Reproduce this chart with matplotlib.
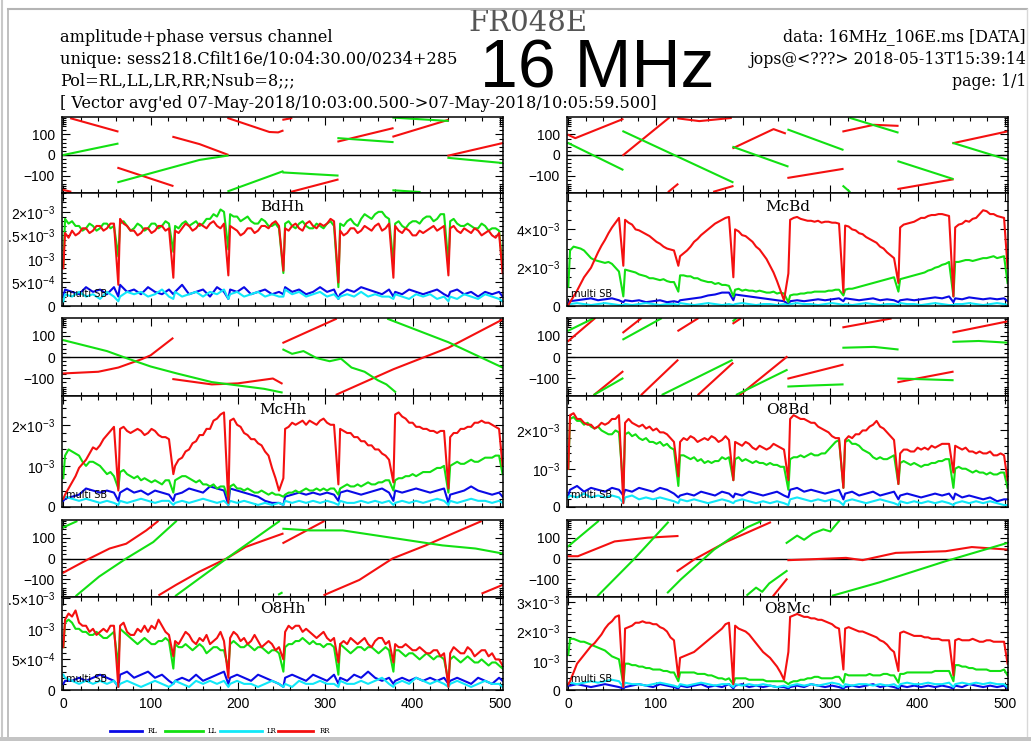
import numpy as np
import matplotlib
matplotlib.use("Agg")
import matplotlib.pyplot as plt
from matplotlib.ticker import MultipleLocator, FixedLocator, FuncFormatter
from matplotlib.lines import Line2D
from matplotlib.patches import Rectangle

# ── Canales: 8 sub-bandas de 63 canales ───────────────────────────────────────
SUBBAND = 63
NSUB = 8
OFFS = [0, 2, 10, 18, 26, 34, 42, 50, 58]                      # RL, LR
OFFS_FINO = [0, 2, 6, 10, 14, 18, 22, 26, 30, 34, 38, 42, 46, 50, 54, 58]  # LL, RR
CANALES = [k * SUBBAND + o for k in range(NSUB) for o in OFFS] + [503]
CANALES_FINO = [k * SUBBAND + o for k in range(NSUB) for o in OFFS_FINO] + [503]

# ── Amplitudes (unidades de 1e-4), una fila por sub-banda ─────────────────────
BdHh_RL = [2, 3.5, 3, 2.5, 4, 3, 3.5, 2.5, 4,
           2, 4.5, 3, 3.5, 2.5, 4, 3, 2.5, 3.5,
           2.5, 3, 4.5, 2.5, 3, 3.5, 2, 4, 3,
           1.5, 3.5, 3, 4, 2.5, 3, 3.5, 2.5, 3,
           2.5, 4, 3, 3.5, 2.5, 3, 4, 3, 3.5,
           1.5, 2.5, 3.5, 3, 4, 3.5, 3, 2.5, 3.5,
           2, 3, 2.5, 3.5, 3, 2.5, 3, 3.5, 2.5,
           2, 3, 3.5, 2.5, 3, 2, 3, 2.5, 3,
           2]
BdHh_LR = [1, 2.5, 2, 3, 2, 2.5, 1.5, 3, 2,
           1, 2, 3, 2.5, 3, 2, 2.5, 3.5, 2,
           1.5, 3, 2, 2.5, 3, 2, 3, 2.5, 3.5,
           1.5, 2.5, 3, 2, 2.5, 3, 2, 2.5, 2,
           2, 3.5, 2.5, 3, 2, 2.5, 3, 2, 2.5,
           1.5, 2, 2.5, 2, 3, 2, 2.5, 2, 2,
           1.5, 2.5, 2, 1.5, 2.5, 2, 2.5, 1.5, 2,
           1, 2, 1.5, 2.5, 2, 1.5, 2.5, 2, 1.5,
           1]
BdHh_LL = [8.5, 18.5, 17.5, 18, 17, 17, 16, 16.5, 17.5, 17, 16, 16.5, 17.5, 17.5, 16.5, 17,
           10.5, 17.5, 18, 17, 16, 16.5, 17.5, 17, 16, 16.5, 17.5, 17.5, 16.5, 17, 18, 17.5,
           11.5, 17, 16.5, 17.5, 18, 17, 17.5, 18, 17, 17.5, 18.5, 18.5, 19.5, 19, 20.5, 20,
           12, 19.5, 19, 19, 18, 18.5, 19, 18, 17.5, 17.5, 18.5, 18, 17, 17, 17.5, 16.5,
           7, 17.5, 18, 17, 16.5, 17.5, 18, 17, 16.5, 16.5, 17.5, 17, 16.5, 17.5, 18, 17,
           4, 17.5, 17, 18, 18.5, 17.5, 17, 18.5, 19.5, 19, 18.5, 19.5, 20, 20, 19, 18.5,
           9, 17.5, 18, 17, 16.5, 17.5, 18, 18, 17.5, 18.5, 19, 19, 18, 18.5, 19.5, 19.5,
           9, 18, 18.5, 17.5, 17, 17, 17.5, 17, 16.5, 16.5, 17.5, 17, 16, 16.5, 16.5, 16,
           8.5]
BdHh_RR = [8, 15.5, 14.5, 16, 15, 15.5, 16.5, 16.5, 15.5, 16, 17, 17, 16, 16.5, 17.5, 17.5,
           4.5, 18.5, 17.5, 17, 16, 16, 15, 15.5, 16.5, 16.5, 15.5, 16, 17, 17, 16, 16.5,
           6, 16, 15.5, 16.5, 17.5, 17, 16, 16.5, 17.5, 17, 16.5, 17.5, 18, 17, 16.5, 17.5,
           6.5, 17, 16.5, 16, 15, 15.5, 16.5, 16.5, 15.5, 16, 17, 17, 16.5, 17.5, 18, 17,
           7.5, 16.5, 16, 17, 17.5, 16.5, 16, 17.5, 18, 17, 16.5, 17.5, 17, 17.5, 18.5, 18,
           5, 16, 15, 15.5, 16.5, 16.5, 15.5, 16, 17, 16.5, 16, 17, 17.5, 16, 16.5, 17.5,
           6, 17, 16, 15.5, 16.5, 16, 15, 15, 16, 15.5, 16, 16.5, 17, 16, 16.5, 17,
           6.5, 16.5, 17, 16, 15.5, 16.5, 16, 15.5, 16.5, 16, 15, 15.5, 16, 15, 14.5, 15.5,
           7]

McBd_RL = [1.5, 2.5, 3, 3.5, 4, 3, 3.5, 4, 3,
           2, 3, 2.5, 3, 2, 2.5, 3, 2, 2.5,
           2, 3, 3.5, 4, 4.5, 5.5, 6, 7, 7,
           3, 6, 5.5, 5, 4.5, 4, 3.5, 3, 2.5,
           1, 2.5, 3, 2.5, 3, 3.5, 3, 3.5, 4,
           2.5, 4, 3.5, 3, 3.5, 4, 3, 3.5, 3,
           2, 3, 3.5, 3, 3.5, 4, 4.5, 4, 5,
           2, 4, 3.5, 4.5, 4, 3.5, 4, 3.5, 4,
           2.5]
McBd_LR = [0.5, 1, 1.5, 1, 0.5, 1, 1.5, 1, 0.5,
           0.5, 1, 0.5, 1, 1.5, 1, 0.5, 1, 1,
           0.5, 1.5, 1, 0.5, 1, 1.5, 1, 0.5, 1,
           0.5, 1, 1.5, 1, 0.5, 1, 1, 0.5, 1,
           0.5, 1, 1.5, 1, 1, 0.5, 1, 1.5, 1,
           0.5, 1, 0.5, 1, 1.5, 1, 0.5, 1, 1,
           0.5, 1.5, 1, 1, 0.5, 1, 1.5, 1, 0.5,
           0.5, 1, 1, 1.5, 1, 0.5, 1, 1.5, 1,
           0.5]
McBd_LL = [10, 29, 31, 30.5, 30, 29, 27, 25, 24, 23.5, 23, 22.5, 23, 22, 20, 18,
           5, 19, 18.5, 18, 17.5, 16.5, 16, 15.5, 14.5, 14.5, 14, 13.5, 14, 13, 12.5, 12.5,
           7.5, 16, 16, 15.5, 15.5, 14.5, 14.5, 13.5, 13, 12.5, 12.5, 11.5, 12, 11, 11, 10.5,
           5, 8.5, 9, 8, 8.5, 8, 8, 7.5, 8, 7.5, 7, 7, 7.5, 6.5, 7, 6.5,
           2, 5.5, 6, 6, 6.5, 6.5, 7, 7, 7.5, 7.5, 7.5, 7.5, 8, 8, 8.5, 8.5,
           5.5, 8.5, 9, 9, 9.5, 10, 10.5, 11, 11.5, 12, 12.5, 13, 13.5, 14, 14.5, 15,
           7.5, 14, 14.5, 15, 15.5, 16, 16.5, 17, 17.5, 18.5, 19, 20, 20.5, 21.5, 22, 23,
           5, 23, 23, 23.5, 24, 24, 23.5, 24, 24.5, 25, 25, 25.5, 26, 25, 25.5, 26,
           12]
McBd_RR = [0.5, 2, 5, 8, 11.5, 15, 17.5, 20, 24, 28, 31.5, 34.5, 38, 41, 43.5, 46,
           21, 45, 43.5, 42.5, 40, 39.5, 38.5, 37.5, 36.5, 35, 33.5, 32.5, 31, 30, 29.5, 29,
           21, 26, 27.5, 29, 31, 33.5, 35, 37, 38.5, 40, 41.5, 43, 44, 45, 46, 46.5,
           15, 40, 39, 37, 36.5, 35, 33.5, 31, 29.5, 27, 24.5, 21, 17.5, 13, 8, 3,
           17, 45, 46, 46.5, 45.5, 45, 44.5, 44.5, 44, 44.5, 43.5, 44, 44, 43.5, 43.5, 43,
           7, 42, 41.5, 40, 39.5, 38, 37.5, 36, 35, 34, 33, 31, 30, 28, 26.5, 25,
           12, 41, 42.5, 43, 43.5, 44, 45, 46, 46, 47, 47.5, 47.5, 48, 48, 47.5, 47,
           5, 41, 42.5, 43, 44.5, 44, 45.5, 46, 48, 50, 49.5, 48, 48, 47, 46.5, 46,
           20]

McHh_RL = [1.5, 2, 2.5, 3, 4.5, 4, 3.5, 4, 3.5,
           1.5, 3.5, 4.5, 3.5, 4, 3, 4, 3.5, 3,
           1.5, 3, 3.5, 4.5, 4, 3.5, 5, 4.5, 4,
           0.5, 4.5, 4, 3.5, 3, 2.5, 1.5, 1, 1,
           0.5, 2.5, 3, 3.5, 3, 3.5, 3, 3.5, 3,
           1.5, 3.5, 4, 3.5, 3, 3.5, 4, 4.5, 3.5,
           1.5, 4, 3.5, 4, 4.5, 4, 3.5, 4, 4.5,
           1, 3, 3.5, 4, 5, 4, 3.5, 3, 3.5,
           2.5]
McHh_LR = [2, 2.5, 2, 1.5, 2, 1.5, 1, 1.5, 1,
           0.5, 1.5, 1, 1.5, 2, 1.5, 1, 1.5, 1.5,
           0.5, 1, 1.5, 1, 1.5, 2, 1.5, 1, 1.5,
           0.5, 1.5, 1, 1.5, 1, 0.5, 1, 0.5, 1,
           0.5, 1.5, 1, 1.5, 1, 1.5, 1, 1.5, 1,
           0.5, 1.5, 1, 1, 1.5, 1, 1.5, 1, 1.5,
           0.5, 1, 1.5, 1, 1.5, 1, 1.5, 2, 1.5,
           0.5, 1.5, 1, 1.5, 2, 1.5, 1.5, 1, 1.5,
           1]
McHh_LL = [7, 12.5, 14, 13.5, 13, 12.5, 11, 10, 11, 11, 10.5, 10, 9, 8, 8.5, 7.5,
           4.5, 8.5, 9, 8, 7.5, 7, 7.5, 6.5, 7, 6.5, 6, 6.5, 6, 5.5, 6.5, 6.5,
           3.5, 6.5, 7, 7.5, 7.5, 7, 6.5, 6, 6.5, 5.5, 5.5, 5, 5.5, 4.5, 5, 5,
           2, 5, 5.5, 4.5, 4.5, 4, 4.5, 4, 3.5, 3.5, 4, 3.5, 3, 3.5, 3, 3,
           2.5, 3, 3.5, 3.5, 4, 3.5, 4, 4.5, 4, 4, 4.5, 4, 4.5, 4, 4.5, 4.5,
           3, 4.5, 5, 5.5, 5, 5, 5.5, 5, 5.5, 6, 5.5, 5.5, 6, 6, 6.5, 6.5,
           4, 6.5, 7, 7, 7.5, 7.5, 8, 7.5, 8, 8.5, 8.5, 8.5, 9, 9.5, 9.5, 10,
           3.5, 10, 10.5, 11, 10.5, 10.5, 11, 11.5, 11, 11, 11.5, 12, 12, 12, 12.5, 12.5,
           8]
McHh_RR = [2, 3, 4.5, 6, 7.5, 9.5, 10.5, 11.5, 13, 14.5, 14, 15, 16.5, 17.5, 18.5, 19.5,
           4, 19, 19.5, 18.5, 18, 18.5, 19, 18.5, 17.5, 18, 19, 18.5, 17.5, 17, 17, 16.5,
           8, 10, 11.5, 12, 13.5, 14, 15.5, 16, 17.5, 17.5, 19, 19, 21, 21.5, 22.5, 23,
           1, 21, 21.5, 20, 19.5, 18, 17.5, 16.5, 16.5, 15.5, 15, 13.5, 12.5, 9.5, 7, 4,
           7, 19, 19.5, 20.5, 20, 20.5, 21, 20, 21, 20.5, 20, 21, 21.5, 20.5, 20, 20,
           5.5, 19, 18.5, 18, 18, 17, 17, 16, 16, 15, 15, 14, 14, 13, 12.5, 11.5,
           6, 22.5, 23, 22, 21.5, 20.5, 20.5, 19.5, 19.5, 19, 19, 18.5, 18.5, 18, 18.5, 18.5,
           4.5, 17, 18, 18, 19, 19, 19.5, 19.5, 20.5, 20.5, 21, 20.5, 20.5, 20, 19.5, 19,
           10]

O8Bd_RL = [3, 4.5, 5.5, 4, 5, 4.5, 4, 5, 4.5,
           3, 4.5, 4, 5, 4.5, 4, 5, 4.5, 3.5,
           2.5, 3, 3.5, 3, 4, 3.5, 3, 4, 3.5,
           2.5, 3.5, 3, 4, 3.5, 3, 3.5, 4, 3,
           2.5, 4.5, 5, 4, 4.5, 4, 3.5, 4, 4.5,
           2, 3.5, 4, 3, 3.5, 4, 3, 3.5, 4,
           2, 3, 3.5, 3, 2.5, 3, 3.5, 3, 3.5,
           2, 3.5, 2.5, 3, 2.5, 2, 2.5, 1.5, 2,
           2]
O8Bd_LR = [2.5, 3, 2.5, 3.5, 2.5, 3, 2.5, 3, 2.5,
           1, 2.5, 3, 2, 2.5, 2, 2.5, 2, 1.5,
           1, 2, 1.5, 2, 1.5, 1, 1.5, 2, 1.5,
           1, 1.5, 2, 1.5, 1, 1.5, 1, 1.5, 1,
           0.5, 2, 2.5, 2, 1.5, 2, 1.5, 2, 1.5,
           0.5, 1.5, 2, 1.5, 1, 1.5, 2, 1.5, 1,
           0.5, 1.5, 1, 1.5, 1, 1.5, 1, 1.5, 1,
           0.5, 1, 1.5, 1, 1.5, 1, 1.5, 1, 0.5,
           0.5]
O8Bd_LL = [10, 23, 23.5, 22.5, 22.5, 21.5, 22, 21, 20.5, 21, 20, 19.5, 19, 19, 20, 19.5,
           5, 19, 19.5, 18.5, 19, 18, 17.5, 18, 17, 17, 16.5, 17, 16, 16.5, 15.5, 15,
           5.5, 13.5, 13.5, 13, 12.5, 13, 12, 12.5, 11.5, 12, 11.5, 12, 12, 13, 12.5, 13,
           7, 12.5, 13, 12, 12.5, 12, 11.5, 12, 11.5, 11.5, 11, 11.5, 11, 11, 10.5, 10.5,
           4.5, 12.5, 13, 13, 13.5, 13, 13.5, 14, 13.5, 13.5, 14, 14, 15, 16, 17, 17.5,
           5, 17, 17.5, 16.5, 16.5, 16, 15, 14.5, 14, 13, 12.5, 13, 12.5, 12.5, 13, 13.5,
           6, 11.5, 12, 11.5, 11, 11.5, 11, 10.5, 11, 11, 11.5, 11.5, 12, 12, 12.5, 12.5,
           5, 10, 10.5, 10, 10, 9.5, 9, 9.5, 9, 9, 8.5, 9, 8.5, 8.5, 9, 9,
           5]
O8Bd_RR = [10, 24, 24.5, 23, 23, 22, 21.5, 21.5, 20.5, 21, 22, 21.5, 22, 23, 23, 24,
           1, 22, 23, 22, 21.5, 21, 21.5, 20.5, 21, 20, 20.5, 19.5, 19.5, 19, 18, 17,
           8, 17, 18, 17.5, 18.5, 18, 17, 17.5, 18, 17.5, 18.5, 18, 17, 17.5, 18.5, 17.5,
           7, 17, 16.5, 16, 17, 16.5, 15.5, 15, 16, 15.5, 15, 15.5, 16.5, 16, 15.5, 15,
           7, 23, 24, 23.5, 23, 23, 22.5, 22, 22, 21, 20.5, 20, 19.5, 18.5, 18, 18,
           5, 17.5, 18.5, 18, 19, 19, 20, 20, 21, 21.5, 22.5, 21, 20.5, 19.5, 18.5, 17.5,
           6, 14, 15, 15, 14.5, 14.5, 15.5, 15, 15.5, 15, 16, 15.5, 16, 16.5, 16.5, 16.5,
           9, 16, 15.5, 15, 15.5, 14.5, 14.5, 14, 14.5, 14, 14, 14.5, 13.5, 13.5, 14, 13.5,
           7]

O8Hh_RL = [1, 1.5, 1.5, 2, 1.5, 2, 2.5, 2, 1.5,
           0.5, 2.5, 3, 2, 2.5, 3, 2, 2.5, 1.5,
           1, 1.5, 2, 1.5, 2.5, 1.5, 2, 2.5, 3,
           1, 2, 2.5, 2, 1.5, 2.5, 2, 1.5, 1,
           0.5, 2, 2.5, 2, 1.5, 2.5, 2, 1.5, 2.5,
           1, 2, 1.5, 2.5, 2, 3, 2, 1.5, 2,
           1, 1.5, 2, 1.5, 2, 1.5, 2, 1.5, 2,
           1, 1.5, 2, 1.5, 1, 2, 1.5, 1, 2,
           1.5]
O8Hh_LR = [2.5, 2, 1.5, 1, 1.5, 1, 1.5, 1, 1.5,
           0.5, 1, 1.5, 1, 0.5, 1, 1.5, 1, 0.5,
           1, 1.5, 1, 0.5, 1.5, 1, 1.5, 1, 1.5,
           0.5, 1, 1.5, 1, 1, 0.5, 1, 1.5, 1,
           0.5, 1, 0.5, 1.5, 1, 1, 1.5, 1, 1,
           0.5, 1.5, 1, 1, 1.5, 1, 1.5, 2, 1,
           0.5, 1, 1.5, 1, 2, 1.5, 1, 1.5, 1,
           0.5, 1, 1.5, 1, 0.5, 1, 1.5, 1, 1,
           0.5]
O8Hh_LL = [7, 11, 11.5, 11, 10, 10, 9.5, 9.5, 9, 9, 9.5, 9, 8.5, 8.5, 9, 9.5,
           4, 10, 9.5, 9, 8.5, 8, 7.5, 8, 8.5, 8, 7.5, 7.5, 8, 8, 8.5, 8,
           3.5, 7.5, 7, 7, 7.5, 7, 6.5, 7, 7.5, 7, 6, 6.5, 7, 7, 6.5, 6.5,
           3.5, 7.5, 8, 7.5, 7, 7, 7.5, 7, 6.5, 7, 7, 6.5, 6, 6.5, 6.5, 6,
           3, 7, 7.5, 7.5, 8, 8, 8.5, 8, 7.5, 8, 7.5, 7.5, 7, 7.5, 7.5, 7,
           2.5, 7.5, 7, 6.5, 6, 6.5, 7, 7, 6.5, 7, 7, 6.5, 6, 6.5, 7, 6.5,
           3, 6.5, 6.5, 6, 5.5, 6, 6, 5.5, 5, 5.5, 6, 5.5, 5, 5.5, 5.5, 5,
           1.5, 5, 5.5, 5, 4.5, 5, 5.5, 5, 4.5, 4.5, 5, 4.5, 4, 4.5, 4.5, 4,
           3.5]
O8Hh_RR = [7, 11.5, 12.5, 12, 13, 11, 10.5, 10.5, 9.5, 10, 9, 9.5, 10, 9.5, 10.5, 10.5,
           0.5, 10.5, 11, 9.5, 9, 9, 10, 9.5, 10.5, 9.5, 10.5, 10, 11.5, 10.5, 9.5, 9,
           5.5, 8, 7.5, 8.5, 9.5, 9, 8, 7.5, 8.5, 8, 9, 7.5, 8, 8.5, 9.5, 8,
           2, 8.5, 9.5, 9, 8, 8.5, 7.5, 8, 9, 8, 7, 7.5, 8, 7.5, 6.5, 7,
           5, 9.5, 10.5, 10, 10.5, 10.5, 9.5, 10, 9.5, 9, 8.5, 9, 9.5, 8.5, 8, 8.5,
           4.5, 7.5, 8, 7.5, 8.5, 8, 7.5, 8, 8.5, 7.5, 7, 8, 8.5, 8.5, 7.5, 8,
           4.5, 7.5, 7, 7, 7.5, 7, 6.5, 6.5, 7, 6.5, 6, 6, 6.5, 6.5, 5.5, 6,
           0.5, 6, 7, 6.5, 6, 6, 7, 6.5, 5.5, 6, 6.5, 6.5, 5.5, 6, 5, 5,
           4]

O8Mc_RL = [1.5, 1.5, 2, 1.5, 1, 1.5, 2, 1.5, 1,
           0.5, 1, 1.5, 2, 1.5, 1, 2, 1.5, 1,
           0.5, 1.5, 1, 1.5, 2, 1, 1.5, 1, 2,
           0.5, 1.5, 2, 1, 1.5, 1, 1.5, 1, 1,
           0.5, 1, 1.5, 1, 2, 1.5, 1, 1.5, 1,
           0.5, 1, 1.5, 1, 1.5, 2, 1, 1.5, 1,
           0.5, 1.5, 1, 1.5, 1, 1.5, 1, 1.5, 1,
           0.5, 1.5, 1, 2, 1.5, 1, 1.5, 1, 1.5,
           0.5]
O8Mc_LR = [2, 2.5, 2, 2.5, 3, 2.5, 3, 3.5, 3,
           1, 2.5, 2, 2, 1.5, 2, 2.5, 2, 1.5,
           1, 2, 1.5, 2, 2.5, 2, 1.5, 2, 2,
           1, 2, 1.5, 2, 1.5, 2, 1.5, 1, 1.5,
           1, 1.5, 2, 1.5, 2, 1.5, 2, 2.5, 2,
           1, 2, 1.5, 2, 2, 1.5, 2, 1.5, 2,
           1, 2, 2.5, 2, 2, 2.5, 2, 2, 2.5,
           1, 2, 2.5, 2, 2.5, 2, 2.5, 2, 2,
           1]
O8Mc_LL = [12, 17.5, 17.5, 17, 16.5, 16.5, 16, 15.5, 15, 14.5, 14, 13.5, 12.5, 11.5, 11, 10.5,
           2, 9, 9, 8.5, 8.5, 8, 8, 7.5, 7.5, 7, 7, 7, 6.5, 6.5, 6, 6,
           3, 6, 6, 6, 6, 6, 5.5, 5.5, 5.5, 5, 5, 4.5, 4, 4, 3.5, 4,
           2, 4, 4, 4, 4, 3.5, 3.5, 3.5, 3.5, 3.5, 3, 3, 3, 3, 3, 3,
           2, 2.5, 3, 3, 3.5, 3.5, 4, 4, 4.5, 4.5, 4, 4, 4, 4, 4.5, 4.5,
           2.5, 5.5, 5, 5, 5, 5, 5, 5, 5.5, 5, 5, 5, 5.5, 5.5, 5, 5,
           2.5, 5.5, 5.5, 6, 6, 6, 6, 6, 6, 6, 6, 6.5, 6.5, 6.5, 6.5, 6.5,
           3, 8.5, 8.5, 8, 8, 7.5, 7.5, 7, 7, 7, 7, 6.5, 6.5, 6.5, 6.5, 7,
           5]
O8Mc_RR = [2, 3, 6, 9, 10.5, 12, 13.5, 15, 16, 17.5, 19, 21, 22.5, 23.5, 25, 25.5,
           1, 21, 21.5, 22, 23, 23, 23.5, 23, 23, 22.5, 22.5, 21.5, 21, 20, 18, 17,
           4.5, 11, 11.5, 12, 12.5, 13, 14, 15, 16, 17, 18, 19, 20, 21, 22.5, 23,
           2, 22, 21, 20.5, 20, 19, 17.5, 16, 14.5, 13, 12, 11, 9.5, 8, 6, 3.5,
           13, 25, 25.5, 26, 25.5, 25, 25, 24.5, 24.5, 24, 24, 23.5, 23, 22.5, 21.5, 21,
           7, 21, 21.5, 21, 20.5, 20, 20, 19.5, 19, 18.5, 18, 17, 16.5, 15.5, 14, 13,
           6.5, 19.5, 20, 19.5, 19, 18.5, 18.5, 18.5, 18, 18, 17.5, 17.5, 17.5, 17, 17, 17,
           5, 17, 17.5, 17, 17, 17, 17.5, 17, 16.5, 16.5, 17, 17, 16.5, 16.5, 16.5, 16.5,
           9]

# ── Fases (grados): tramos (canal, fase) entre saltos de ±180 ────────────────
BdHh_RR_F = [[(0, -170), (8, -178)], [(9, 178), (62, 115)], [(63, -63), (125, -150)],
             [(126, 88), (156, 53), (188, 2)], [(189, 179), (236, 112), (246, 110), (251, 118)],
             [(252, 172), (261, 179)], [(262, -178), (314, -120)], [(315, 66), (377, 130)],
             [(378, 90), (440, 170)], [(441, -3), (503, 58)]]
BdHh_LL_F = [[(0, 0), (62, 55)], [(63, -132), (156, -24), (188, -3)], [(189, -176), (251, -80)],
             [(252, -85), (314, -100)], [(315, 82), (377, 63)], [(378, -172), (408, -180)],
             [(378, 182), (440, 166)], [(441, -14), (503, -39)]]

McBd_RR_F = [[(0, 98), (8, 82), (62, 174)], [(63, 0), (115, 180)], [(115, -178), (125, -143)],
             [(126, 178), (150, 165), (186, 180)], [(167, -178), (188, -152)],
             [(189, 34), (235, 126), (248, 106)], [(252, -111), (314, -68)],
             [(315, 115), (350, 147), (377, 142)], [(378, -165), (440, -119)], [(441, 58), (503, 115)]]
McBd_LL_F = [[(0, 58), (62, -71)], [(63, 115), (188, -132)], [(189, 39), (251, -55)],
             [(252, 123), (314, 26)], [(315, -152), (322, -178)], [(323, 180), (377, 110)],
             [(378, -31), (440, -116)], [(441, 58), (503, -23)]]

McHh_RR_F = [[(0, -78), (40, -70), (63, -50), (90, -10), (100, 8), (125, 88)],
             [(126, -105), (170, -130), (200, -125), (240, -102), (250, -125)],
             [(252, 68), (312, 180)], [(313, -178), (378, -58), (441, 44), (503, 178)]]
McHh_LL_F = [[(0, 80), (50, 28), (72, -5), (100, -45), (130, -78), (170, -119), (200, -135),
              (230, -151), (250, -168)],
             [(252, 35), (262, 15), (275, 28), (290, -5), (305, -20), (318, -8), (330, -50),
              (345, -70), (360, -110), (370, -130), (380, -165)],
             [(372, 180), (441, 70), (503, -50)]]

O8Bd_RR_F = [[(0, 76), (30, 182)], [(30, -178), (62, -70)], [(63, 117), (83, 182)],
             [(84, -178), (125, -16)], [(126, 125), (148, 182)], [(149, -178), (188, -30)],
             [(189, 160), (197, 182)], [(197, -178), (250, 0)], [(252, -102), (314, -37)],
             [(315, 141), (369, 182)], [(378, -119), (440, -70)], [(441, 117), (503, 169)]]
O8Bd_LL_F = [[(0, 125), (28, 182)], [(30, -178), (62, -102)], [(63, 84), (106, 182)],
             [(108, -178), (187, -16)], [(189, 172), (192, 182)], [(193, -178), (250, -62)],
             [(252, -140), (280, -135), (314, -130)], [(315, 44), (350, 48), (377, 36)],
             [(378, -102), (440, -110)], [(441, 72), (470, 76), (503, 68)]]

O8Hh_RR_F = [[(0, -68), (30, 0), (53, 48), (72, 71), (95, 135), (108, 178)],
             [(110, -175), (129, -127), (156, -63), (187, 0), (209, 56), (251, 119)],
             [(252, 75), (298, 178)], [(299, -175), (339, -103), (377, 0), (415, 63), (446, 120),
                                       (478, 178)],
             [(480, -167), (503, -127)]]
O8Hh_LL_F = [[(0, 150), (15, 178)], [(15, -178), (41, -87), (72, 0), (103, 79), (129, 178)],
             [(129, -178), (187, 0), (247, 178)], [(247, -172), (250, -165)],
             [(252, 143), (282, 135), (320, 135), (358, 111), (396, 87), (434, 63), (472, 48),
              (503, 24)]]

O8Mc_RR_F = [[(0, 11), (11, 11), (53, 82), (91, 100), (125, 108)],
             [(125, -60), (144, -5), (182, 82), (231, 173)], [(235, -178), (250, -100)],
             [(252, -8), (318, 3), (337, -8), (375, 27), (432, 35), (462, 55), (503, 43)]]
O8Mc_LL_F = [[(0, 59), (34, 178)], [(34, -178), (76, 0), (114, 173)],
             [(114, -163), (129, -100), (167, 43), (185, 95), (205, 150), (220, 178)],
             [(205, -175), (215, -140), (222, -160), (230, -120), (240, -90), (250, -60)],
             [(250, 75), (262, 110), (270, 90), (280, 120), (292, 140), (300, 130), (310, 180)],
             [(303, -178), (356, -115), (432, -13), (503, 75)]]

# ── Configuración de cada panel ───────────────────────────────────────────────
NOMBRES = ["BdHh", "McBd", "McHh", "O8Bd", "O8Hh", "O8Mc"]
AMPS = [(BdHh_RL, BdHh_LL, BdHh_LR, BdHh_RR), (McBd_RL, McBd_LL, McBd_LR, McBd_RR),
        (McHh_RL, McHh_LL, McHh_LR, McHh_RR), (O8Bd_RL, O8Bd_LL, O8Bd_LR, O8Bd_RR),
        (O8Hh_RL, O8Hh_LL, O8Hh_LR, O8Hh_RR), (O8Mc_RL, O8Mc_LL, O8Mc_LR, O8Mc_RR)]
FASES = [(BdHh_RR_F, BdHh_LL_F), (McBd_RR_F, McBd_LL_F), (McHh_RR_F, McHh_LL_F),
         (O8Bd_RR_F, O8Bd_LL_F), (O8Hh_RR_F, O8Hh_LL_F), (O8Mc_RR_F, O8Mc_LL_F)]
YMAX = [2.4e-3, 5.9e-3, 2.7e-3, 2.9e-3, 1.52e-3, 3.18e-3]
YTICKS = [[0, 5e-4, 1e-3, 1.5e-3, 2e-3], [0, 2e-3, 4e-3], [0, 1e-3, 2e-3],
          [0, 1e-3, 2e-3], [0, 5e-4, 1e-3, 1.5e-3], [0, 1e-3, 2e-3, 3e-3]]
YMINOR = [1e-4, 5e-4, 2e-4, 2e-4, 1e-4, 2e-4]

POLS = ["RL", "LL", "LR", "RR"]
COLORES = {"RL": "#0a0ae6", "LL": "#12e012", "LR": "#10e8f8", "RR": "#f41010"}

PHASE_MINOR = [-180, -170, -160, -150, -140, -120, -80, -60, -40, -20,
               20, 40, 60, 80, 120, 140, 150, 160, 170, 180]

# ── Figura ────────────────────────────────────────────────────────────────────
W, H = 1031, 741
plt.rcParams["font.family"] = ["Liberation Sans", "DejaVu Sans"]
plt.rcParams["mathtext.fontset"] = "custom"
plt.rcParams["mathtext.rm"] = "Liberation Sans"
plt.rcParams["mathtext.it"] = "Liberation Sans:italic"
plt.rcParams["mathtext.bf"] = "Liberation Sans:bold"

fig = plt.figure(figsize=(W / 100, H / 100), dpi=100)


def caja(x0, y0, x1, y1):
    return [x0 / W, 1 - y1 / H, (x1 - x0) / W, (y1 - y0) / H]


def fmt_amp(v, pos):
    if v <= 0:
        return "0"
    e = int(np.floor(np.log10(v) + 1e-9))
    m = round(v / 10 ** e, 1)
    if m == 1:
        return r"$10^{%d}$" % e
    return r"$%g{\times}10^{%d}$" % (m, e)


def ejes(ax, bottom_labels):
    ax.set_xlim(-1.5, 503.5)
    ax.xaxis.set_major_locator(MultipleLocator(100))
    ax.xaxis.set_minor_locator(MultipleLocator(20))
    ax.tick_params(which="both", direction="in", top=True, right=True,
                   labelsize=10, width=0.8, pad=5)
    ax.tick_params(which="major", length=6)
    ax.tick_params(which="minor", length=3)
    ax.tick_params(axis="x", labelbottom=bottom_labels)
    for s in ax.spines.values():
        s.set_linewidth(1.1)


COLS = [(62, 503), (567, 1008)]
ROWS = [(117, 193, 306), (318, 396, 507), (520, 597, 690)]

for i, nombre in enumerate(NOMBRES):
    fila, col = divmod(i, 2)
    x0, x1 = COLS[col]
    yt, ym, yb = ROWS[fila]

    # fase
    axf = fig.add_axes(caja(x0, yt, x1, ym))
    ejes(axf, False)
    axf.set_ylim(-185, 185)
    axf.yaxis.set_major_locator(FixedLocator([-100, 0, 100]))
    axf.yaxis.set_minor_locator(FixedLocator(PHASE_MINOR))
    axf.axhline(0, color="black", lw=1.0)
    for pol, tramos in zip(["RR", "LL"], FASES[i]):
        for tramo in tramos:
            axf.plot([p[0] for p in tramo], [p[1] for p in tramo],
                     color=COLORES[pol], lw=1.5)

    # amplitud
    axa = fig.add_axes(caja(x0, ym, x1, yb))
    ejes(axa, fila == 2)
    axa.set_ylim(0, YMAX[i])
    axa.yaxis.set_major_locator(FixedLocator(YTICKS[i]))
    axa.yaxis.set_minor_locator(MultipleLocator(YMINOR[i]))
    axa.yaxis.set_major_formatter(FuncFormatter(fmt_amp))
    for pol, serie in zip(POLS, AMPS[i]):
        xs = CANALES if pol in ("RL", "LR") else CANALES_FINO
        axa.plot(xs, np.array(serie) * 1e-4, color=COLORES[pol], lw=1.5)
    axa.text(0.5, 0.875, nombre, transform=axa.transAxes, ha="center", va="center",
             fontsize=11, family="DejaVu Serif")
    axa.text(0.008, 0.06, "multi SB", transform=axa.transAxes, ha="left", va="bottom",
             fontsize=7, family="DejaVu Sans")

# ── Encabezado ────────────────────────────────────────────────────────────────
SERIF = "DejaVu Serif"
izq = ["amplitude+phase versus channel",
       "unique: sess218.Cfilt16e/10:04:30.00/0234+285",
       "Pol=RL,LL,LR,RR;Nsub=8;;;",
       "[ Vector avg'ed 07-May-2018/10:03:00.500->07-May-2018/10:05:59.500]"]
der = ["data: 16MHz_106E.ms [DATA]",
       "jops@<???> 2018-05-13T15:39:14",
       "page: 1/1"]
for k, t in enumerate(izq):
    fig.text(60 / W, 1 - (37 + 22 * k) / H, t, ha="left", va="center",
             fontsize=11.6, family=SERIF)
for k, t in enumerate(der):
    fig.text(1026 / W, 1 - (37 + 22 * k) / H, t, ha="right", va="center",
             fontsize=11.3, family=SERIF)
fig.text(528 / W, 1 - 23 / H, "FR048E", ha="center", va="center",
         fontsize=21, family=SERIF, color="#555555")
fig.text(597 / W, 1 - 87 / H, "16 MHz", ha="center", va="baseline",
         fontsize=49, family="Liberation Sans")

# ── Leyenda ───────────────────────────────────────────────────────────────────
LEY_X = [(110, 142, 148), (165, 203, 208), (220, 262, 267), (278, 313, 320)]
for pol, (a, b, t) in zip(POLS, LEY_X):
    fig.add_artist(Line2D([a / W, b / W], [1 - 731 / H] * 2, color=COLORES[pol],
                          lw=2, transform=fig.transFigure))
    fig.text(t / W, 1 - 731 / H, pol, ha="left", va="center", fontsize=5, family=SERIF)

# ── Marco de la página ────────────────────────────────────────────────────────
fig.add_artist(Rectangle((0, 0), 7.5 / W, 1, transform=fig.transFigure,
                         facecolor="white", edgecolor="none", zorder=10))
fig.add_artist(Line2D([1.5 / W] * 2, [0, 1], color="#c8c8c8", lw=1.5,
                      transform=fig.transFigure, zorder=11))
fig.add_artist(Line2D([7.5 / W] * 2, [1 - 9 / H, 1 - 737 / H], color="#b4b4b4", lw=1.2,
                      transform=fig.transFigure, zorder=11))
fig.add_artist(Line2D([7.5 / W, 1027 / W], [1 - 9 / H] * 2, color="#b4b4b4", lw=1.5,
                      transform=fig.transFigure, zorder=11))
fig.add_artist(Line2D([1027 / W] * 2, [1 - 9 / H, 1 - 737 / H], color="#d8d8d8", lw=1.0,
                      transform=fig.transFigure, zorder=11))
fig.add_artist(Rectangle((0, 0), 1, 4 / H, transform=fig.transFigure,
                         facecolor="#c4c4c4", edgecolor="none", zorder=11))

fig.savefig("out.png", dpi=100)
